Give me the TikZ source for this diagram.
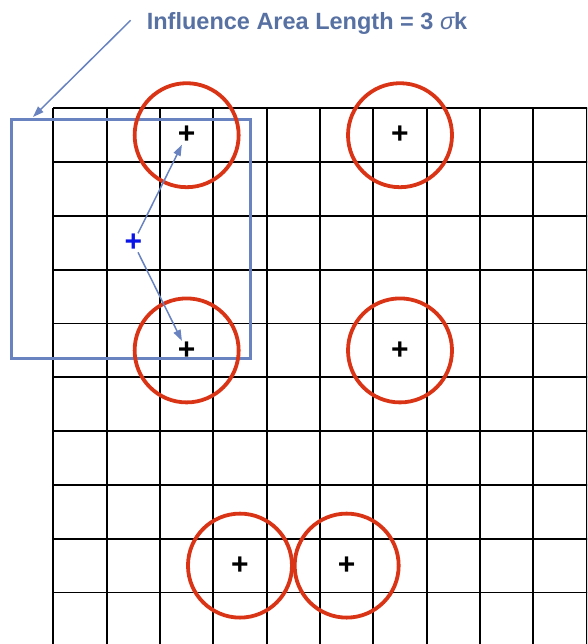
\documentclass[tikz,border=0pt]{standalone}
\usepackage{fontspec}
\setmainfont{Liberation Sans}
\usetikzlibrary{arrows.meta}
\definecolor{areablue}{RGB}{104,131,192}
\definecolor{titleblue}{RGB}{88,113,163}
\definecolor{ringred}{RGB}{218,52,22}
\definecolor{crossblue}{RGB}{10,20,230}
\begin{document}
\begin{tikzpicture}[x=53.34pt,y=-53.8pt,
		cell/.style={line width=1.8pt},
		ring/.style={draw=ringred,line width=3.8pt},
		cross/.style={inner sep=0.5pt,font=\fontsize{30}{30}\selectfont\bfseries},
		pointer/.style={draw=areablue,line width=1.5pt,-{Triangle[length=11pt,width=7.5pt]}}]
				\useasboundingbox (-0.999,-2.013) rectangle (10.006,9.957);
				\clip (-0.999,-2.013) rectangle (10.006,9.957);
				\foreach \i in {0,...,10}{
					\draw[cell] (\i,0) -- (\i,10.2);
					\draw[cell] (0,\i) -- (10.2,\i);}
				\draw[draw=areablue,line width=3pt] (-0.78,0.217) rectangle (3.70,4.647);
				\coordinate (tip) at (-0.381,0.162);
				\node[cross] (p1) at (2.5,0.5) {+};
				\node[cross] (p2) at (6.5,0.5) {+};
				\node[cross] (p3) at (2.5,4.5) {+};
				\node[cross] (p4) at (6.5,4.5) {+};
				\node[cross] (p5) at (3.5,8.5) {+};
				\node[cross] (p6) at (5.5,8.5) {+};
				\draw[ring] (p1) circle[radius=52pt];
				\draw[ring] (p2) circle[radius=52pt];
				\draw[ring] (p3) circle[radius=52pt];
				\draw[ring] (p4) circle[radius=52pt];
				\draw[ring] (p5) circle[radius=52pt];
				\draw[ring] (p6) circle[radius=52pt];
				\node[cross,text=crossblue] (q) at (1.5,2.5) {+};
				\draw[pointer] (q) -- (p1);
				\draw[pointer] (q) -- (p3);
				\node[anchor=base west,inner sep=0pt,text=titleblue,font=\fontsize{23.5}{28}\selectfont\bfseries] (title) at (1.75,-1.468) {Influence Area Length = 3 {\mdseries\itshape σ}k};
				\draw[pointer] ([xshift=-16pt,yshift=3pt]title.west) -- (tip);
				\end{tikzpicture}
\end{document}
